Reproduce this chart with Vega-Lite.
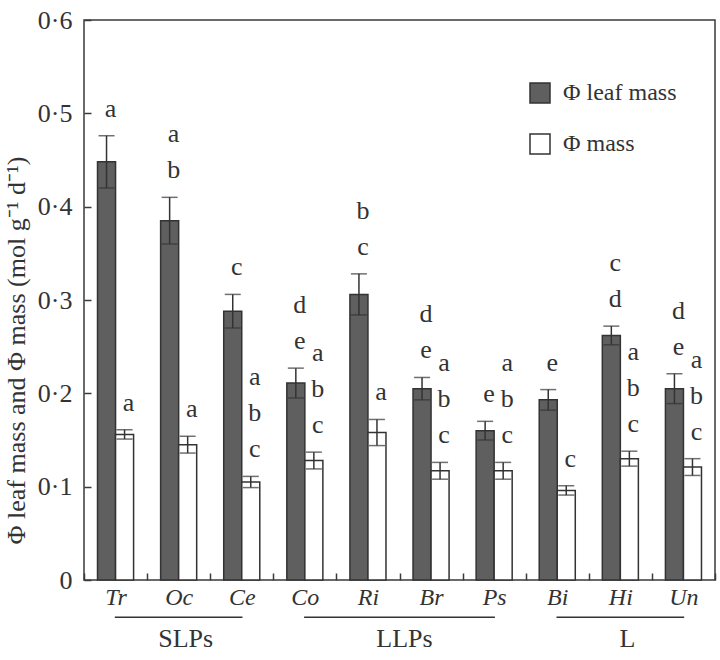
{
  "$schema": "https://vega.github.io/schema/vega-lite/v6.json",
  "width": 631,
  "height": 560,
  "autosize": "none",
  "padding": {"left": 84, "top": 20, "right": 5, "bottom": 80},
  "background": "white",
  "config": {
    "font": "Liberation Serif",
    "view": {"stroke": "#3a3a3a", "strokeWidth": 1.5},
    "axis": {
      "domain": false,
      "grid": false,
      "labelFont": "Liberation Serif",
      "titleFont": "Liberation Serif",
      "labelColor": "#333333",
      "titleColor": "#333333",
      "tickColor": "#3a3a3a",
      "tickWidth": 1.5
    },
    "legend": {
      "orient": "none",
      "legendX": 444,
      "legendY": 61,
      "padding": 0,
      "symbolType": "square",
      "symbolSize": 400,
      "symbolStrokeColor": "#333333",
      "symbolStrokeWidth": 1.5,
      "labelFont": "Liberation Serif",
      "labelFontSize": 24,
      "labelColor": "#333333",
      "labelOffset": 11,
      "rowPadding": 25
    }
  },
  "datasets": {
    "bars": [
      {"species": "Tr", "series": "leaf", "mean": 0.448, "se": 0.028, "letters": ["a"]},
      {"species": "Tr", "series": "mass", "mean": 0.156, "se": 0.005, "letters": ["a"]},
      {"species": "Oc", "series": "leaf", "mean": 0.385, "se": 0.025, "letters": ["a", "b"]},
      {"species": "Oc", "series": "mass", "mean": 0.145, "se": 0.009, "letters": ["a"]},
      {"species": "Ce", "series": "leaf", "mean": 0.288, "se": 0.018, "letters": ["c"]},
      {"species": "Ce", "series": "mass", "mean": 0.105, "se": 0.006, "letters": ["a", "b", "c"]},
      {"species": "Co", "series": "leaf", "mean": 0.211, "se": 0.016, "letters": ["d", "e"]},
      {"species": "Co", "series": "mass", "mean": 0.128, "se": 0.009, "letters": ["a", "b", "c"]},
      {"species": "Ri", "series": "leaf", "mean": 0.306, "se": 0.022, "letters": ["b", "c"]},
      {"species": "Ri", "series": "mass", "mean": 0.158, "se": 0.014, "letters": ["a"]},
      {"species": "Br", "series": "leaf", "mean": 0.205, "se": 0.012, "letters": ["d", "e"]},
      {"species": "Br", "series": "mass", "mean": 0.117, "se": 0.009, "letters": ["a", "b", "c"]},
      {"species": "Ps", "series": "leaf", "mean": 0.160, "se": 0.010, "letters": ["e"]},
      {"species": "Ps", "series": "mass", "mean": 0.117, "se": 0.009, "letters": ["a", "b", "c"]},
      {"species": "Bi", "series": "leaf", "mean": 0.193, "se": 0.011, "letters": ["e"]},
      {"species": "Bi", "series": "mass", "mean": 0.096, "se": 0.005, "letters": ["c"]},
      {"species": "Hi", "series": "leaf", "mean": 0.262, "se": 0.010, "letters": ["c", "d"]},
      {"species": "Hi", "series": "mass", "mean": 0.130, "se": 0.008, "letters": ["a", "b", "c"]},
      {"species": "Un", "series": "leaf", "mean": 0.205, "se": 0.016, "letters": ["d", "e"]},
      {"species": "Un", "series": "mass", "mean": 0.121, "se": 0.009, "letters": ["a", "b", "c"]}
    ],
    "groups": [
      {"group": "SLPs", "start": "Tr", "end": "Ce", "mid": "Oc"},
      {"group": "LLPs", "start": "Co", "end": "Ps", "mid": "Br"},
      {"group": "L", "start": "Bi", "end": "Un", "mid": "Hi"}
    ]
  },
  "layer": [
    {
      "data": {"name": "bars"},
      "mark": {"type": "bar", "stroke": "#333333", "strokeWidth": 1.5},
      "encoding": {
        "x": {
          "field": "species",
          "type": "nominal",
          "title": null,
          "scale": {
            "domain": ["Tr", "Oc", "Ce", "Co", "Ri", "Br", "Ps", "Bi", "Hi", "Un"],
            "paddingInner": 0,
            "paddingOuter": 0
          },
          "axis": {
            "title": null,
            "labelAngle": 0,
            "labelFontSize": 24,
            "labelFontStyle": "italic",
            "labelPadding": 12,
            "tickSize": -7,
            "tickBand": "extent"
          }
        },
        "xOffset": {
          "field": "series",
          "type": "nominal",
          "scale": {"domain": ["leaf", "mass"], "paddingInner": 0, "paddingOuter": 0.75}
        },
        "y": {
          "field": "mean",
          "type": "quantitative",
          "scale": {"domain": [0, 0.6], "nice": false, "zero": true},
          "axis": {
            "title": "Φ leaf mass and Φ mass (mol g⁻¹ d⁻¹)",
            "titleFontSize": 26,
            "titleFontWeight": "normal",
            "titlePadding": 8,
            "titleY": 330,
            "labelFontSize": 26,
            "labelPadding": 19,
            "tickSize": -7,
            "values": [0, 0.1, 0.2, 0.3, 0.4, 0.5, 0.6],
            "labelExpr": "datum.value == 0 ? '0' : replace(format(datum.value, '.1f'), '.', '·')"
          }
        },
        "fill": {
          "field": "series",
          "type": "nominal",
          "scale": {"domain": ["leaf", "mass"], "range": ["#5f5f5f", "#ffffff"]},
          "legend": {
            "title": null,
            "labelExpr": "datum.label == 'leaf' ? 'Φ leaf mass' : 'Φ mass'"
          }
        }
      }
    },
    {
      "data": {"name": "bars"},
      "transform": [
        {"calculate": "datum.mean - datum.se", "as": "lo"},
        {"calculate": "datum.mean + datum.se", "as": "hi"}
      ],
      "encoding": {
        "x": {"field": "species", "type": "nominal", "title": null},
        "xOffset": {"field": "series", "type": "nominal"}
      },
      "layer": [
        {
          "mark": {"type": "rule", "color": "#333333", "strokeWidth": 1.5},
          "encoding": {
            "y": {"field": "lo", "type": "quantitative"},
            "y2": {"field": "hi"}
          }
        },
        {
          "mark": {"type": "tick", "color": "#333333", "thickness": 1.5, "size": 16, "orient": "horizontal"},
          "encoding": {"y": {"field": "lo", "type": "quantitative"}}
        },
        {
          "mark": {"type": "tick", "color": "#333333", "thickness": 1.5, "size": 16, "orient": "horizontal"},
          "encoding": {"y": {"field": "hi", "type": "quantitative"}}
        },
        {
          "transform": [
            {"flatten": ["letters"], "as": ["letter"]},
            {"window": [{"op": "row_number", "as": "rank"}], "groupby": ["species", "series"]},
            {"joinaggregate": [{"op": "count", "as": "n"}], "groupby": ["species", "series"]},
            {"calculate": "datum.hi + (datum.n - datum.rank) * 0.0386", "as": "ly"}
          ],
          "mark": {
            "type": "text",
            "baseline": "bottom",
            "fontSize": 26,
            "dy": -14,
            "dx": 4,
            "color": "#333333",
            "font": "Liberation Serif"
          },
          "encoding": {
            "y": {"field": "ly", "type": "quantitative"},
            "text": {"field": "letter"}
          }
        }
      ]
    },
    {
      "data": {"name": "groups"},
      "mark": {"type": "rule", "color": "#333333", "strokeWidth": 1.5, "strokeCap": "square"},
      "encoding": {
        "x": {"field": "start", "type": "nominal", "title": null},
        "x2": {"field": "end"},
        "y": {"datum": -0.04, "type": "quantitative"}
      }
    },
    {
      "data": {"name": "groups"},
      "transform": [{"filter": "datum.group != 'LLPs'"}],
      "mark": {"type": "text", "fontSize": 26, "baseline": "middle", "color": "#333333", "font": "Liberation Serif", "dx": 7},
      "encoding": {
        "x": {"field": "mid", "type": "nominal", "title": null, "bandPosition": 0.5},
        "y": {"datum": -0.063, "type": "quantitative"},
        "text": {"field": "group"}
      }
    },
    {
      "data": {"name": "groups"},
      "transform": [{"filter": "datum.group == 'LLPs'"}],
      "mark": {"type": "text", "fontSize": 26, "baseline": "middle", "color": "#333333", "font": "Liberation Serif", "dx": 5},
      "encoding": {
        "x": {"field": "mid", "type": "nominal", "title": null, "bandPosition": 0},
        "y": {"datum": -0.063, "type": "quantitative"},
        "text": {"field": "group"}
      }
    }
  ]
}
